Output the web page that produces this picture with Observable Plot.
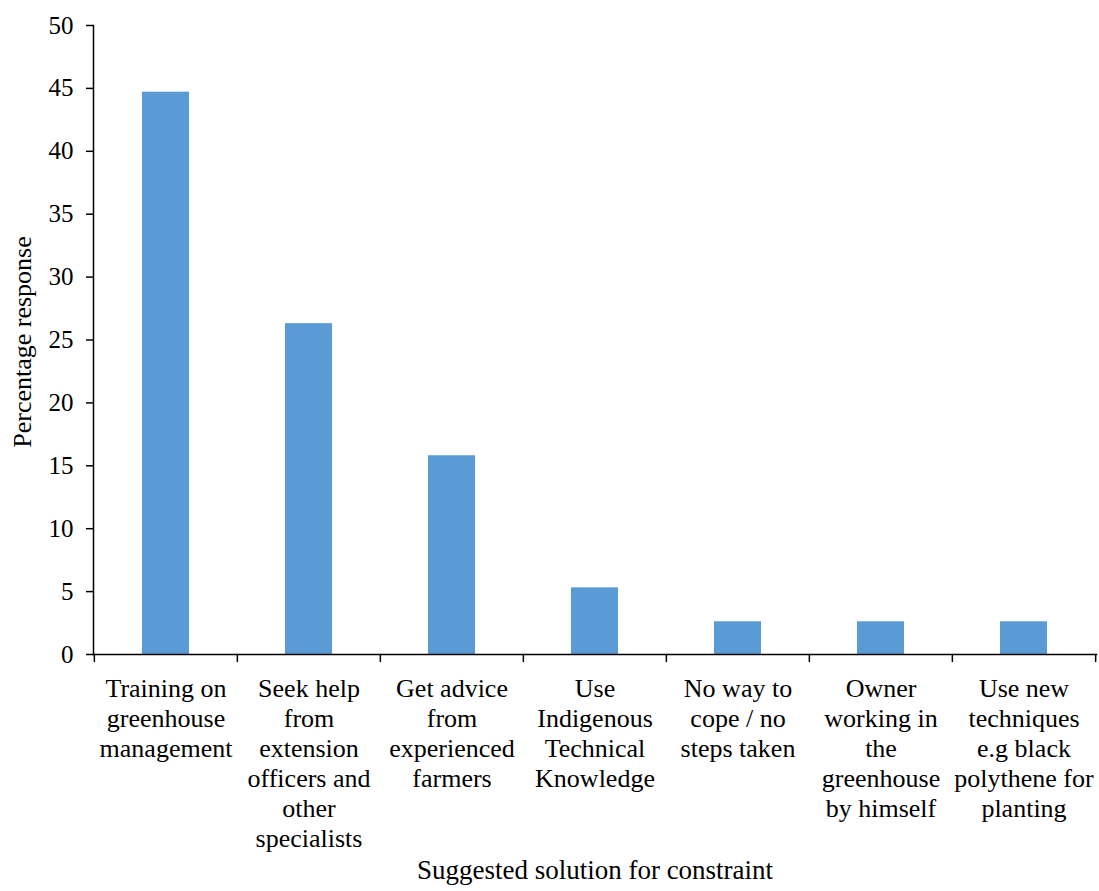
<!DOCTYPE html>
<html><head><meta charset="utf-8">
<script src="https://cdn.jsdelivr.net/npm/d3@7"></script>
<script src="https://cdn.jsdelivr.net/npm/@observablehq/plot@0.6"></script>
<style>body{margin:0;background:#fff}</style>
</head><body><div id="chart"></div>
<script>
const categories = [
  "Training on\ngreenhouse\nmanagement",
  "Seek help\nfrom\nextension\nofficers and\nother\nspecialists",
  "Get advice\nfrom\nexperienced\nfarmers",
  "Use\nIndigenous\nTechnical\nKnowledge",
  "No way to\ncope / no\nsteps taken",
  "Owner\nworking in\nthe\ngreenhouse\nby himself",
  "Use new\ntechniques\ne.g black\npolythene for\nplanting"
];
const values = [44.7, 26.3, 15.8, 5.3, 2.6, 2.6, 2.6];
const yTicks = [0, 5, 10, 15, 20, 25, 30, 35, 40, 45, 50];
const yLabel = "Percentage response";
const xLabel = "Suggested solution for constraint";

const data = categories.map((c, i) => ({category: c, value: values[i]}));
const W = 1099, H = 891, mL = 93, mR = 3, mT = 25, mB = 237;
const step = (W - mL - mR) / categories.length;
const tickShape = {draw(ctx, l) { ctx.moveTo(0, 0); ctx.lineTo(0, -l); }};

const chart = Plot.plot({
  width: W, height: H,
  marginLeft: mL, marginRight: mR, marginTop: mT, marginBottom: mB,
  style: {fontFamily: "'Liberation Serif', 'Times New Roman', serif", fontSize: "25px", color: "#000", background: "#fff", overflow: "visible"},
  x: {domain: categories, paddingInner: 0.67, paddingOuter: 0.335, align: 0.5, axis: null},
  y: {domain: [0, 50], axis: null},
  marks: [
    Plot.barY(data, {x: "category", y: "value", fill: "#5B9BD5"}),
    Plot.axisY({ticks: yTicks, tickSize: 7, tickPadding: 13, fontSize: 25, label: null, stroke: "#000", strokeWidth: 1.5, strokeOpacity: 1}),
    Plot.frame({anchor: "left", stroke: "#000", strokeWidth: 1.5}),
    Plot.frame({anchor: "bottom", stroke: "#000", strokeWidth: 1.5}),
    Plot.vector(categories, {x: d => d, y: () => 0, length: 7, rotate: 180, anchor: "start", dx: -step / 2, shape: tickShape, stroke: "#000", strokeWidth: 1.5}),
    Plot.vector(categories.slice(-1), {x: d => d, y: () => 0, length: 7, rotate: 180, anchor: "start", dx: step / 2, shape: tickShape, stroke: "#000", strokeWidth: 1.5}),
    Plot.text(categories, {x: d => d, text: d => d, frameAnchor: "bottom", lineAnchor: "top", dy: 21, fontSize: 26, lineHeight: 30 / 26, fill: "#000"}),
    Plot.text([yLabel], {frameAnchor: "left", textAnchor: "middle", dx: -71, dy: 2, rotate: -90, fontSize: 26, fill: "#000"}),
    Plot.text([xLabel], {frameAnchor: "bottom", dy: 224, fontSize: 27, fill: "#000"})
  ]
});
document.getElementById("chart").appendChild(chart);
</script>
</body></html>
